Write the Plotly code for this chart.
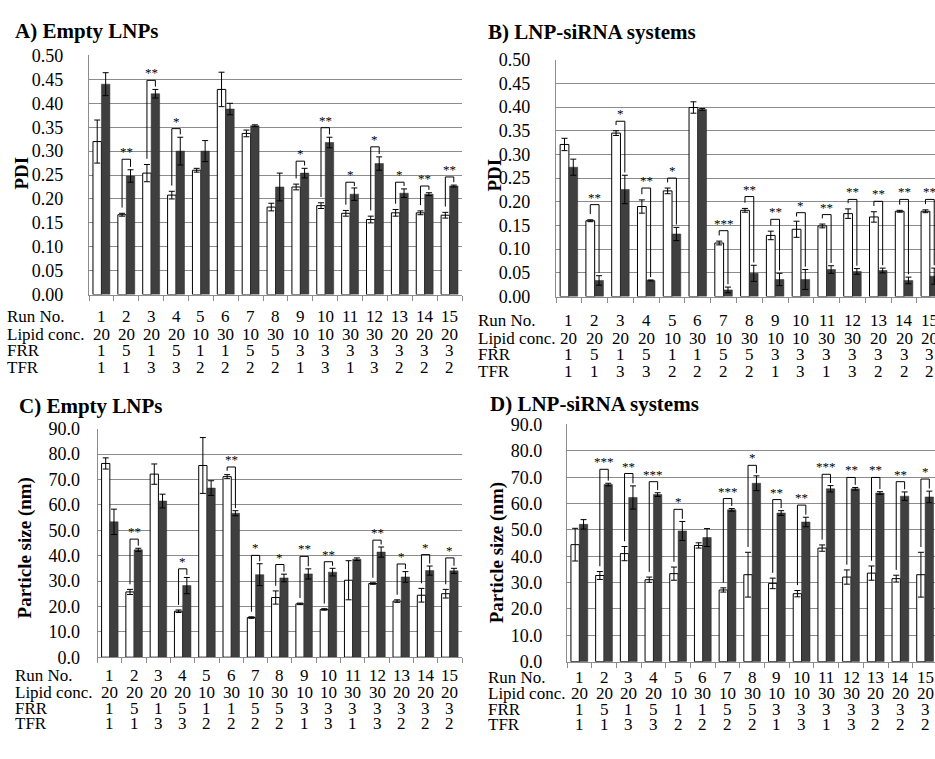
import plotly.graph_objects as go

W, H = 935, 759

runs = list(range(1, 16))
run_labels = [str(r) for r in runs]
lipid_conc = [20, 20, 20, 20, 10, 30, 10, 30, 10, 10, 30, 30, 20, 20, 20]
frr = [1, 5, 1, 5, 1, 1, 5, 5, 3, 3, 3, 3, 3, 3, 3]
tfr = [1, 1, 3, 3, 2, 2, 2, 2, 1, 3, 1, 3, 2, 2, 2]
row_names = ["Run No.", "Lipid conc.", "FRR", "TFR"]

# ---- A) Empty LNPs, PDI
a_open = [0.320, 0.167, 0.254, 0.208, 0.260, 0.429, 0.337, 0.183, 0.225, 0.186, 0.170, 0.157, 0.171, 0.171, 0.166]
a_open_err = [0.045, 0.003, 0.018, 0.008, 0.004, 0.036, 0.007, 0.008, 0.006, 0.006, 0.006, 0.007, 0.007, 0.004, 0.006]
a_fill = [0.440, 0.248, 0.420, 0.300, 0.300, 0.388, 0.353, 0.225, 0.254, 0.318, 0.210, 0.274, 0.212, 0.210, 0.227]
a_fill_err = [0.024, 0.013, 0.009, 0.029, 0.022, 0.012, 0.002, 0.029, 0.010, 0.011, 0.013, 0.014, 0.009, 0.003, 0.002]
a_sig = ["", "**", "**", "*", "", "", "", "", "*", "**", "*", "*", "*", "**", "**"]
a_bracket = [None, 0.283, 0.448, 0.347, None, None, None, None, 0.279, 0.349, 0.235, 0.309, 0.235, 0.227, 0.246]

# ---- B) LNP-siRNA systems, PDI
b_open = [0.321, 0.160, 0.345, 0.190, 0.223, 0.399, 0.113, 0.182, 0.129, 0.142, 0.149, 0.175, 0.168, 0.180, 0.180]
b_open_err = [0.013, 0.002, 0.005, 0.014, 0.006, 0.012, 0.004, 0.004, 0.009, 0.017, 0.004, 0.010, 0.011, 0.002, 0.003]
b_fill = [0.273, 0.034, 0.226, 0.034, 0.132, 0.395, 0.014, 0.049, 0.036, 0.036, 0.057, 0.053, 0.055, 0.034, 0.043]
b_fill_err = [0.017, 0.010, 0.030, 0.001, 0.014, 0.002, 0.006, 0.017, 0.013, 0.021, 0.008, 0.006, 0.005, 0.007, 0.017]
b_sig = ["", "**", "*", "**", "*", "", "***", "**", "**", "*", "**", "**", "**", "**", "**"]
b_bracket = [None, 0.194, 0.370, 0.229, 0.250, None, 0.139, 0.211, 0.163, 0.177, 0.173, 0.205, 0.201, 0.205, 0.205]

# ---- C) Empty LNPs, particle size
c_open = [76.3, 25.7, 72.1, 18.1, 75.5, 71.1, 15.6, 23.5, 21.0, 18.8, 30.3, 29.0, 22.1, 24.4, 25.0]
c_open_err = [2.2, 1.0, 4.0, 0.5, 11.0, 0.8, 0.3, 2.6, 0.3, 0.3, 7.7, 0.3, 0.5, 2.7, 1.7]
c_fill = [53.3, 42.3, 61.5, 28.2, 66.6, 56.7, 32.5, 31.2, 32.8, 33.5, 38.6, 41.4, 31.6, 34.1, 34.0]
c_fill_err = [5.0, 0.6, 2.7, 3.2, 2.9, 1.0, 4.3, 1.5, 2.0, 1.5, 0.5, 2.0, 2.1, 1.8, 1.0]
c_sig = ["", "**", "", "*", "", "**", "*", "*", "**", "**", "", "**", "*", "*", "*"]
c_bracket = [None, 46.5, None, 34.8, None, 74.9, 40.1, 36.5, 39.7, 37.6, None, 46.1, 36.7, 40.4, 39.1]

# ---- D) LNP-siRNA systems, particle size
d_open = [44.4, 32.7, 41.0, 31.1, 33.4, 44.1, 27.2, 33.0, 29.7, 25.8, 43.1, 32.1, 33.6, 31.5, 33.0]
d_open_err = [6.2, 1.5, 2.7, 1.0, 2.5, 1.0, 0.8, 8.5, 2.0, 1.2, 1.2, 2.7, 2.7, 1.3, 8.5]
d_fill = [52.1, 67.2, 62.3, 63.4, 49.6, 47.1, 57.6, 67.7, 56.4, 53.0, 65.6, 65.6, 64.0, 62.8, 62.5]
d_fill_err = [1.8, 0.5, 4.4, 0.7, 3.6, 3.4, 0.5, 2.8, 0.9, 1.8, 1.2, 0.5, 0.5, 1.6, 2.2]
d_sig = ["", "***", "**", "***", "*", "", "***", "*", "**", "**", "***", "**", "**", "**", "*"]
d_bracket = [None, 73.0, 71.4, 68.3, 57.8, None, 61.9, 74.5, 61.5, 59.4, 71.1, 69.9, 69.9, 68.3, 69.3]

SERIF = "Liberation Serif"
GRID = "#8c8c8c"
DARK = "#3f3f3f"
BW = 0.34
TABLE_FONT = 17


def px_x(x):
    return x / W


def px_y(y):
    return 1 - y / H


panels = [
    dict(title="A) Empty LNPs", ytitle="PDI", open=a_open, open_err=a_open_err, fill=a_fill,
         fill_err=a_fill_err, sig=a_sig, bracket=a_bracket,
         xdom=(89, 462), ydom=(292.3, 46.7), xmax=15.5, yrange=(0, 0.5), dtick=0.05, fmt=".2f",
         gap=0.012, drop=0.008, standoff=21,
         title_xy=(13, 22), ytitle_xy=(22, 168), label_x=5, rows_y=(315, 333, 350, 367)),
    dict(title="B) LNP-siRNA systems", ytitle="PDI", open=b_open, open_err=b_open_err, fill=b_fill,
         fill_err=b_fill_err, sig=b_sig, bracket=b_bracket,
         xdom=(556, 935), ydom=(294.3, 51), xmax=15.2, yrange=(0, 0.5), dtick=0.05, fmt=".2f",
         gap=0.012, drop=0.008, standoff=21,
         title_xy=(486, 23), ytitle_xy=(495, 170), label_x=476, rows_y=(319, 337, 354, 371)),
    dict(title="C) Empty LNPs", ytitle="Particle size (nm)", open=c_open, open_err=c_open_err,
         fill=c_fill, fill_err=c_fill_err, sig=c_sig, bracket=c_bracket,
         xdom=(97.7, 462), ydom=(664.7, 430), xmax=15.5, yrange=(0, 90), dtick=10, fmt=".1f",
         gap=2.0, drop=1.5, standoff=13,
         title_xy=(17, 407), ytitle_xy=(25, 553), label_x=13, rows_y=(684, 701, 717, 733)),
    dict(title="D) LNP-siRNA systems", ytitle="Particle size (nm)", open=d_open, open_err=d_open_err,
         fill=d_fill, fill_err=d_fill_err, sig=d_sig, bracket=d_bracket,
         xdom=(567, 935), ydom=(669.3, 425.7), xmax=15.4, yrange=(0, 90), dtick=10, fmt=".1f",
         gap=2.0, drop=1.5, standoff=20,
         title_xy=(488, 405), ytitle_xy=(497, 557), label_x=486, rows_y=(686, 702, 718, 734)),
]

fig = go.Figure()
annotations = []
shapes = []
table_rows = [run_labels, lipid_conc, frr, tfr]

for i, p in enumerate(panels):
    n = "" if i == 0 else str(i + 1)
    xa, ya = "x" + n, "y" + n
    fig.add_trace(go.Bar(
        x=runs, y=p["open"], xaxis=xa, yaxis=ya, width=BW, offset=-BW,
        marker=dict(color="white", line=dict(color="black", width=1)),
        error_y=dict(type="data", array=p["open_err"], color="black", thickness=1, width=3),
        showlegend=False, hoverinfo="y"))
    fig.add_trace(go.Bar(
        x=runs, y=p["fill"], xaxis=xa, yaxis=ya, width=BW, offset=0,
        marker=dict(color=DARK, line=dict(color="#2a2a2a", width=0.5)),
        error_y=dict(type="data", array=p["fill_err"], color="black", thickness=1, width=3),
        showlegend=False, hoverinfo="y"))

    xd = [px_x(p["xdom"][0]), min(1.0, px_x(p["xdom"][1]))]
    yd = [px_y(p["ydom"][0]), px_y(p["ydom"][1])]
    fig.update_layout(**{
        ("xaxis" + n): dict(domain=xd, anchor=ya, range=[0.5, p["xmax"]],
                            tickvals=[k + 0.5 for k in range(0, 16)], showticklabels=False,
                            ticks="outside", ticklen=5, tickcolor=GRID, tickwidth=1.3,
                            showline=True, linecolor=GRID, linewidth=1.3,
                            showgrid=False, zeroline=False, fixedrange=True),
        ("yaxis" + n): dict(domain=yd, anchor=xa, range=list(p["yrange"]), dtick=p["dtick"],
                            tickformat=p["fmt"], showgrid=True, gridcolor=GRID, gridwidth=1.3,
                            showline=True, linecolor=GRID, linewidth=1.3, zeroline=False,
                            ticks="", ticklabelstandoff=p["standoff"],
                            tickfont=dict(family=SERIF, size=18, color="black"), fixedrange=True),
    })

    # significance brackets
    for r, top, s, o, oe, f, fe in zip(runs, p["bracket"], p["sig"], p["open"], p["open_err"],
                                          p["fill"], p["fill_err"]):
        if top is None:
            continue
        xl, xr = r - BW / 2, r + BW / 2
        yl = min(o + oe + p["gap"], top - p["drop"])
        yr = min(f + fe + p["gap"] * 0.5, top - p["drop"])
        shapes.append(dict(type="path", xref=xa, yref=ya,
                           path=f"M {xl},{yl} L {xl},{top} L {xr},{top} L {xr},{yr}",
                           line=dict(color="black", width=1)))
        annotations.append(dict(x=r, y=top, xref=xa, yref=ya, text=s, showarrow=False,
                                yanchor="bottom", yshift=-2,
                                font=dict(family=SERIF, size=13, color="black")))

    # panel title and y title
    annotations.append(dict(x=px_x(p["title_xy"][0]), y=px_y(p["title_xy"][1]), xref="paper", yref="paper",
                            text="<b>" + p["title"] + "</b>", showarrow=False, xanchor="left",
                            yanchor="middle", font=dict(family=SERIF, size=21, color="black")))
    annotations.append(dict(x=px_x(p["ytitle_xy"][0]), y=px_y(p["ytitle_xy"][1]), xref="paper", yref="paper",
                            text="<b>" + p["ytitle"] + "</b>", showarrow=False, textangle=-90,
                            xanchor="center", yanchor="middle",
                            font=dict(family=SERIF, size=19, color="black")))

    # parameter table
    for name, vals, ry in zip(row_names, table_rows, p["rows_y"]):
        annotations.append(dict(x=px_x(p["label_x"]), y=px_y(ry), xref="paper", yref="paper",
                                text=name, showarrow=False, xanchor="left", yanchor="middle",
                                font=dict(family=SERIF, size=TABLE_FONT, color="black")))
        for r, v in zip(runs, vals):
            annotations.append(dict(x=r, y=px_y(ry), xref=xa, yref="paper", text=str(v),
                                    showarrow=False, xanchor="center", yanchor="middle",
                                    font=dict(family=SERIF, size=TABLE_FONT, color="black")))

fig.update_layout(width=W, height=H, margin=dict(l=0, r=0, t=0, b=0),
                  paper_bgcolor="white", plot_bgcolor="white",
                  annotations=annotations, shapes=shapes, showlegend=False)

fig.write_html("out.html", config={"displayModeBar": False},
               post_script="document.body.style.margin='0';")
